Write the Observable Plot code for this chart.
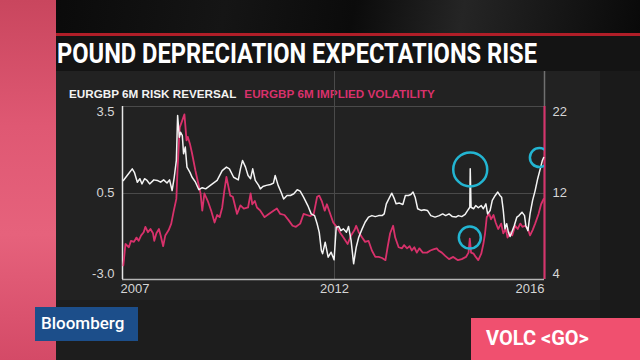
<!DOCTYPE html>
<html><head><meta charset="utf-8">
<script src="https://cdn.jsdelivr.net/npm/d3@7"></script>
<script src="https://cdn.jsdelivr.net/npm/@observablehq/plot@0.6"></script>
<style>
html,body{margin:0;padding:0;}
body{width:640px;height:360px;overflow:hidden;position:relative;background:#1d1d1d;font-family:"Liberation Sans",Arial,sans-serif;}
.abs{position:absolute;}
#legend{left:69px;top:88px;font-size:11.7px;font-weight:bold;line-height:12px;white-space:nowrap;}
#chart{left:0;top:71px;}
</style></head><body>
<div class="abs" style="left:0;top:0;width:640px;height:34px;background:linear-gradient(100deg,#070707 0%,#151515 35%,#0b0b0b 55%,#252525 72%,#090909 100%)"></div>
<div class="abs" style="left:56px;top:71px;width:544px;height:229px;background:#222"></div>
<div class="abs" style="left:600px;top:71px;width:40px;height:247px;background:#1a1a1a"></div>
<div class="abs" style="left:0;top:0;width:56px;height:360px;background:linear-gradient(to bottom,#c9465e 0%,#df5873 35%,#e6627c 65%,#d44a67 100%)"></div>
<div class="abs" style="left:56px;top:33px;width:584px;height:3px;background:#b01e28"></div>
<div class="abs" style="left:56px;top:36px;width:584px;height:35px;background:#141414"></div>
<svg class="abs" style="left:0;top:36px" width="640" height="35"><text x="57" y="27" fill="#fff" font-family="Roboto, 'Liberation Sans', Arial, sans-serif" font-weight="700" font-size="27.5" textLength="480" lengthAdjust="spacingAndGlyphs">POUND DEPRECIATION EXPECTATIONS RISE</text></svg>
<div class="abs" id="legend"><span style="color:#f2f2f2">EURGBP 6M RISK REVERSAL</span><span style="color:#d8316b;margin-left:8px">EURGBP 6M IMPLIED VOLATILITY</span></div>
<div class="abs" id="chart"></div>
<div class="abs" style="left:35px;top:307px;width:103px;height:34px;background:#1c4e8a;color:#fff;font-family:Roboto,Arial,sans-serif;font-size:17px;font-weight:500;line-height:33px;text-indent:6px;">Bloomberg</div>
<div class="abs" style="left:471px;top:318px;width:169px;height:42px;background:#f0506f;color:#fff;font-family:Roboto,'Liberation Sans',Arial,sans-serif;font-size:20px;font-weight:700;line-height:40px;text-indent:15px;">VOLC &lt;GO&gt;</div>
<script>
// EURGBP 6M risk reversal (left axis) — decimal years and values
const rrYears = [
 2007.02,2007.11,2007.23,2007.28,2007.35,2007.41,2007.46,2007.52,2007.58,2007.64,
 2007.74,2007.82,2007.90,2007.97,2008.05,2008.11,2008.17,2008.22,2008.27,2008.30,
 2008.34,2008.37,2008.41,2008.44,2008.48,2008.52,2008.59,2008.64,2008.72,2008.80,
 2008.88,2008.96,2009.07,2009.23,2009.35,2009.45,2009.52,2009.62,2009.73,2009.78,
 2009.83,2009.90,2009.96,2010.02,2010.07,2010.13,2010.21,2010.25,2010.31,2010.39,
 2010.49,2010.56,2010.60,2010.67,2010.75,2010.80,2010.88,2010.96,2011.04,2011.12,
 2011.19,2011.27,2011.37,2011.45,2011.53,2011.59,2011.64,2011.69,2011.72,2011.78,
 2011.85,2011.92,2011.99,2012.04,2012.10,2012.15,2012.21,2012.28,2012.33,2012.39,
 2012.45,2012.51,2012.57,2012.65,2012.72,2012.80,2012.88,2012.96,2013.04,2013.12,
 2013.17,2013.22,2013.30,2013.35,2013.41,2013.45,2013.53,2013.61,2013.67,2013.74,
 2013.80,2013.85,2013.90,2013.96,2014.04,2014.11,2014.19,2014.27,2014.37,2014.47,
 2014.55,2014.62,2014.70,2014.78,2014.86,2014.92,2015.00,2015.08,2015.14,2015.19,
 2015.20,2015.22,2015.28,2015.33,2015.39,2015.46,2015.51,2015.57,2015.61,2015.67,
 2015.72,2015.79,2015.85,2015.90,2015.94,2015.98,2016.02,2016.06,2016.10,2016.14,
 2016.18,2016.24,2016.30,2016.35,2016.42,2016.48,2016.51,2016.56,2016.61,2016.67,
 2016.73,2016.79,2016.85,2016.90,2016.93];
const rrValues = [
 0.95,1.12,1.35,1.23,0.89,1.01,0.83,1.01,0.95,0.83,
 0.97,0.95,0.89,0.97,0.86,0.97,0.60,1.06,1.64,3.19,
 2.44,2.61,2.50,1.87,2.10,1.41,1.23,1.06,0.89,0.63,
 0.70,0.66,0.78,0.95,1.29,1.41,1.35,1.06,0.97,1.35,
 1.64,1.41,1.12,1.01,1.35,0.95,0.78,0.66,0.74,0.78,
 0.81,0.86,1.12,0.78,0.51,0.28,0.42,0.42,0.49,0.63,
 0.58,0.35,0.01,-0.33,-0.40,-0.73,-1.08,-1.82,-1.95,-1.48,
 -2.09,-1.89,-2.20,-0.87,-0.84,-1.01,-0.94,-1.08,-0.84,-1.41,
 -2.36,-1.69,-1.28,-0.94,-0.67,-0.46,-0.40,-0.44,-0.40,-0.40,
 -0.33,0.08,0.35,0.51,0.28,0.08,0.11,0.05,0.42,0.42,
 0.46,0.55,0.35,-0.12,-0.19,-0.16,-0.19,-0.40,-0.46,-0.40,
 -0.33,-0.40,-0.33,-0.44,-0.46,-0.40,-0.44,-0.35,-0.19,-0.06,
 1.35,-0.06,-0.12,0.01,-0.08,0.01,-0.12,0.08,-0.33,-0.19,
 0.22,0.42,0.55,0.42,0.35,-0.19,-0.94,-0.73,-1.08,-1.25,
 -1.08,-0.80,-0.46,-0.40,-0.26,-0.40,-0.80,-1.01,-0.33,0.22,
 0.60,1.01,1.35,1.64,1.74];

// EURGBP 6M implied volatility (right axis)
const volYears = [
 2007.02,2007.07,2007.15,2007.20,2007.27,2007.33,2007.38,2007.44,2007.50,2007.54,
 2007.60,2007.66,2007.72,2007.75,2007.80,2007.86,2007.90,2007.96,2008.01,2008.09,
 2008.15,2008.21,2008.27,2008.30,2008.35,2008.41,2008.46,2008.51,2008.54,2008.59,
 2008.64,2008.72,2008.77,2008.84,2008.88,2008.93,2009.01,2009.09,2009.17,2009.23,
 2009.29,2009.35,2009.40,2009.45,2009.50,2009.54,2009.60,2009.70,2009.78,2009.86,
 2009.96,2010.02,2010.06,2010.12,2010.17,2010.25,2010.35,2010.45,2010.56,2010.64,
 2010.72,2010.82,2010.92,2011.01,2011.09,2011.19,2011.27,2011.35,2011.43,2011.51,
 2011.59,2011.64,2011.70,2011.77,2011.82,2011.90,2011.97,2012.05,2012.14,2012.21,
 2012.31,2012.39,2012.47,2012.51,2012.57,2012.65,2012.72,2012.80,2012.88,2012.96,
 2013.04,2013.12,2013.20,2013.25,2013.31,2013.38,2013.43,2013.51,2013.59,2013.64,
 2013.71,2013.77,2013.82,2013.88,2013.94,2014.00,2014.08,2014.18,2014.26,2014.33,
 2014.41,2014.45,2014.53,2014.61,2014.70,2014.80,2014.91,2015.00,2015.10,2015.16,
 2015.19,2015.22,2015.28,2015.33,2015.39,2015.46,2015.51,2015.55,2015.59,2015.65,
 2015.69,2015.75,2015.80,2015.86,2015.93,2015.98,2016.04,2016.08,2016.14,2016.19,
 2016.26,2016.32,2016.38,2016.43,2016.49,2016.56,2016.61,2016.67,2016.73,2016.81,
 2016.87,2016.93];
const volValues = [
 5.3,7.3,7.0,7.6,7.5,7.9,7.6,8.1,8.4,8.9,
 8.4,8.7,8.3,7.6,8.3,8.7,8.1,7.1,8.1,8.6,
 9.2,10.4,11.5,15.0,19.6,20.4,21.1,18.1,18.5,17.7,
 16.6,14.6,13.5,12.0,10.4,12.0,11.3,10.4,9.3,10.0,
 9.8,10.7,12.3,13.9,12.7,11.8,11.7,10.1,10.9,10.6,
 10.7,12.0,11.0,11.3,10.7,10.4,9.8,10.1,10.4,10.6,
 10.1,10.0,9.5,9.0,8.9,9.2,10.1,10.0,9.9,10.1,
 11.7,11.8,11.3,10.4,11.0,10.1,9.3,8.9,8.3,7.9,
 7.3,8.1,8.6,9.0,8.4,7.9,7.5,7.6,6.7,6.1,
 6.1,6.0,5.8,7.0,8.3,9.0,7.9,7.0,6.9,7.2,
 6.9,7.1,6.7,7.0,6.5,6.9,6.5,6.5,6.7,6.8,
 6.9,6.7,6.5,6.2,5.9,6.1,5.8,5.9,6.1,6.5,
 7.8,6.5,6.4,6.1,5.8,6.4,7.3,8.3,9.8,10.1,
 9.6,10.0,9.3,8.7,9.2,8.3,8.7,7.9,8.4,8.1,
 9.0,8.7,9.2,8.9,9.0,8.7,8.1,8.6,9.2,10.1,
 11.0,11.5];

// Axis ticks
const leftTicks = [-3.0, 0.5, 3.5];
const rightTicks = [4, 12, 22];
const xDomainYears = [2007, 2016.95];
const xTickYears = [2007, 2012, 2016.95];
const xTickLabels = ["2007", "2012", "2016"];

// Callout circles
const calloutYears = [2015.20, 2015.19, 2016.83];
const calloutValues = [1.33, 7.9, 1.74];
const calloutAxis = ["left", "right", "left"];

function toDate(y) {
  const yr = Math.floor(y);
  const a = Date.UTC(yr, 0, 1), b = Date.UTC(yr + 1, 0, 1);
  return new Date(a + (y - yr) * (b - a));
}
const toLeft = d3.scaleLinear().domain(rightTicks).range(leftTicks);

const rr = rrYears.map((y, i) => ({date: toDate(y), value: rrValues[i]}));
const vol = volYears.map((y, i) => ({date: toDate(y), value: toLeft(volValues[i])}));
const callouts = calloutYears.map((y, i) => ({
  date: toDate(y),
  value: calloutAxis[i] === "right" ? toLeft(calloutValues[i]) : calloutValues[i]
}));
const xDomain = xDomainYears.map(toDate);

const PINK = "#d8316b", WHITE = "#f4f4f4", GRID = "#4a4a4a", CYAN = "#23b5d2";
const labelDy = [-6, -1, 5];

const yAxes = [];
leftTicks.forEach((t, i) => {
  yAxes.push(Plot.axisY([t], {anchor: "left", tickSize: 0, tickPadding: 8, dy: labelDy[i], label: null,
    tickFormat: d => d.toFixed(1), fill: "#d6d6d6"}));
  yAxes.push(Plot.axisY([t], {anchor: "right", tickSize: 0, tickPadding: 8, dy: labelDy[i], label: null,
    tickFormat: d => String(Math.round(toLeft.invert(d))), fill: "#d6d6d6"}));
});
const xAnchors = ["start", "middle", "end"];
const xAxes = xTickYears.map((y, i) => Plot.axisX([toDate(y)], {
  tickSize: 0, tickPadding: 4, label: null, textAnchor: xAnchors[i], dx: i === 0 ? -2 : 0,
  tickFormat: () => xTickLabels[i], fill: "#d6d6d6"
}));

const chart = Plot.plot({
  width: 640, height: 229,
  marginLeft: 122, marginRight: 96, marginTop: 35, marginBottom: 21,
  style: {background: "transparent", color: "#d6d6d6", fontFamily: "'Liberation Sans', Arial, sans-serif", fontSize: "13px", overflow: "visible"},
  x: {type: "utc", domain: xDomain, label: null},
  y: {type: "linear", domain: leftTicks, range: [208, 122, 35], label: null},
  marks: [
    Plot.ruleY([leftTicks[1], leftTicks[2]], {stroke: GRID, strokeWidth: 1}),
    Plot.ruleX([toDate(2012)], {stroke: GRID, strokeWidth: 1, insetTop: -35}),
    Plot.ruleX([xDomain[1]], {stroke: "#707070", strokeWidth: 1.5, insetTop: -35}),
    Plot.ruleX([xDomain[1]], {stroke: PINK, strokeWidth: 2}),
    Plot.ruleY([leftTicks[0]], {stroke: "#b5b5b5", strokeWidth: 1.5}),
    Plot.ruleX([xDomain[0]], {stroke: "#e6e6e6", strokeWidth: 1.5}),
    Plot.line(vol, {x: "date", y: "value", stroke: PINK, strokeWidth: 1.8}),
    Plot.line(rr, {x: "date", y: "value", stroke: WHITE, strokeWidth: 1.5}),
    Plot.dot([callouts[0]], {x: "date", y: "value", r: 17, stroke: CYAN, strokeWidth: 2.5, fill: "none"}),
    Plot.dot([callouts[1]], {x: "date", y: "value", r: 11, stroke: CYAN, strokeWidth: 2.5, fill: "none"}),
    Plot.dot([callouts[2]], {x: "date", y: "value", r: 9.5, stroke: CYAN, strokeWidth: 2.5, fill: "none", clip: true}),
    ...yAxes,
    ...xAxes
  ]
});
document.getElementById("chart").appendChild(chart);
</script>
</body></html>
